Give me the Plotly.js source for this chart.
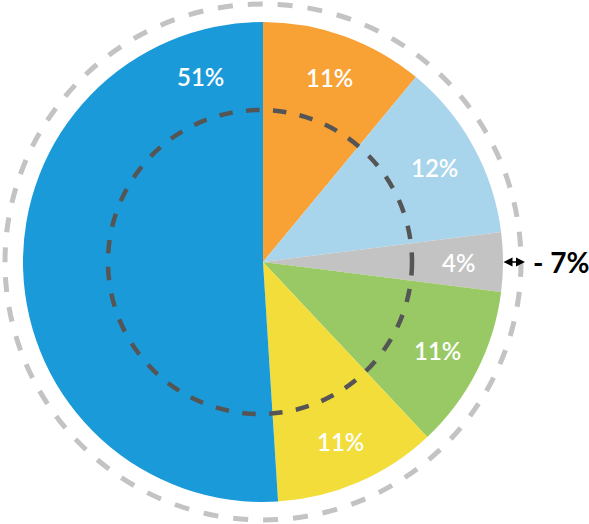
<!DOCTYPE html>
<html><head><meta charset="utf-8">
<script src="https://cdn.plot.ly/plotly-3.0.1.min.js"></script>
<style>html,body{margin:0;padding:0;background:#fff}</style>
</head><body><div id="chart" style="width:589px;height:524px"></div>
<script>
const categories = ["Orange", "Light blue", "Gray", "Green", "Yellow", "Blue"];
const values = [11, 12, 4, 11, 11, 51];
const labels = ["11%", "12%", "4%", "11%", "11%", "51%"];
const colors = ["#f8a135", "#a8d5ec", "#c3c3c3", "#98c964", "#f3dd3a", "#1b9ad9"];
const changeLabel = "- 7%";

const W = 589, H = 524;
const cx = 263, cy = 262, R = 240;
const px = x => x / W, py = y => 1 - y / H;

// label positions from cumulative angles (clockwise from 12 o'clock)
const total = values.reduce((a, b) => a + b, 0);
let cum = 0;
const annotations = [];
values.forEach((v, i) => {
  let mid = (cum + v / 2) / total * 2 * Math.PI;
  cum += v;
  if (i === values.length - 1) mid = -0.325; // big slice label sits near the top
  const r = 0.815 * R;
  annotations.push({
    xref: "paper", yref: "paper", xanchor: "center", yanchor: "middle",
    x: px(cx + r * Math.sin(mid)), y: py(cy - r * Math.cos(mid)),
    text: labels[i], showarrow: false,
    font: {family: "Lato, 'Open Sans', sans-serif", size: 24, color: "#ffffff", weight: 600}
  });
});
// double arrow and change label
annotations.push({
  xref: "paper", yref: "paper", x: px(525), y: py(262),
  ax: -23, ay: 0, text: "", showarrow: true,
  arrowhead: 2, arrowside: "end+start", arrowsize: 1.2, arrowwidth: 1.5, arrowcolor: "#000"
});
annotations.push({
  xref: "paper", yref: "paper", x: px(531), y: py(262), xanchor: "left", yanchor: "middle",
  text: changeLabel, showarrow: false,
  font: {family: "Lato, 'Open Sans', sans-serif", size: 28, color: "#000", weight: "bold"}
});

const data = [{
  type: "pie",
  labels: categories,
  values: values,
  marker: {colors: colors, line: {width: 0}},
  sort: false,
  direction: "clockwise",
  rotation: 0,
  textinfo: "none",
  hoverinfo: "label+percent",
  domain: {x: [px(cx - R), px(cx + R)], y: [py(cy + R), py(cy - R)]}
}];

const layout = {
  width: W, height: H,
  margin: {l: 0, r: 0, t: 0, b: 0},
  showlegend: false,
  paper_bgcolor: "#fff",
  shapes: [
    {type: "circle", xref: "paper", yref: "paper",
     x0: px(cx - 258), x1: px(cx + 258), y0: py(cy + 258), y1: py(cy - 258),
     line: {color: "#c3c3c3", width: 5, dash: "dash"}, layer: "below"},
    {type: "circle", xref: "paper", yref: "paper",
     x0: px(260 - 152), x1: px(260 + 152), y0: py(262 + 152), y1: py(262 - 152),
     line: {color: "#555555", width: 4.5, dash: "dash"}, layer: "above"}
  ],
  annotations: annotations
};
Plotly.newPlot("chart", data, layout, {displayModeBar: false, staticPlot: true});
</script></body></html>
